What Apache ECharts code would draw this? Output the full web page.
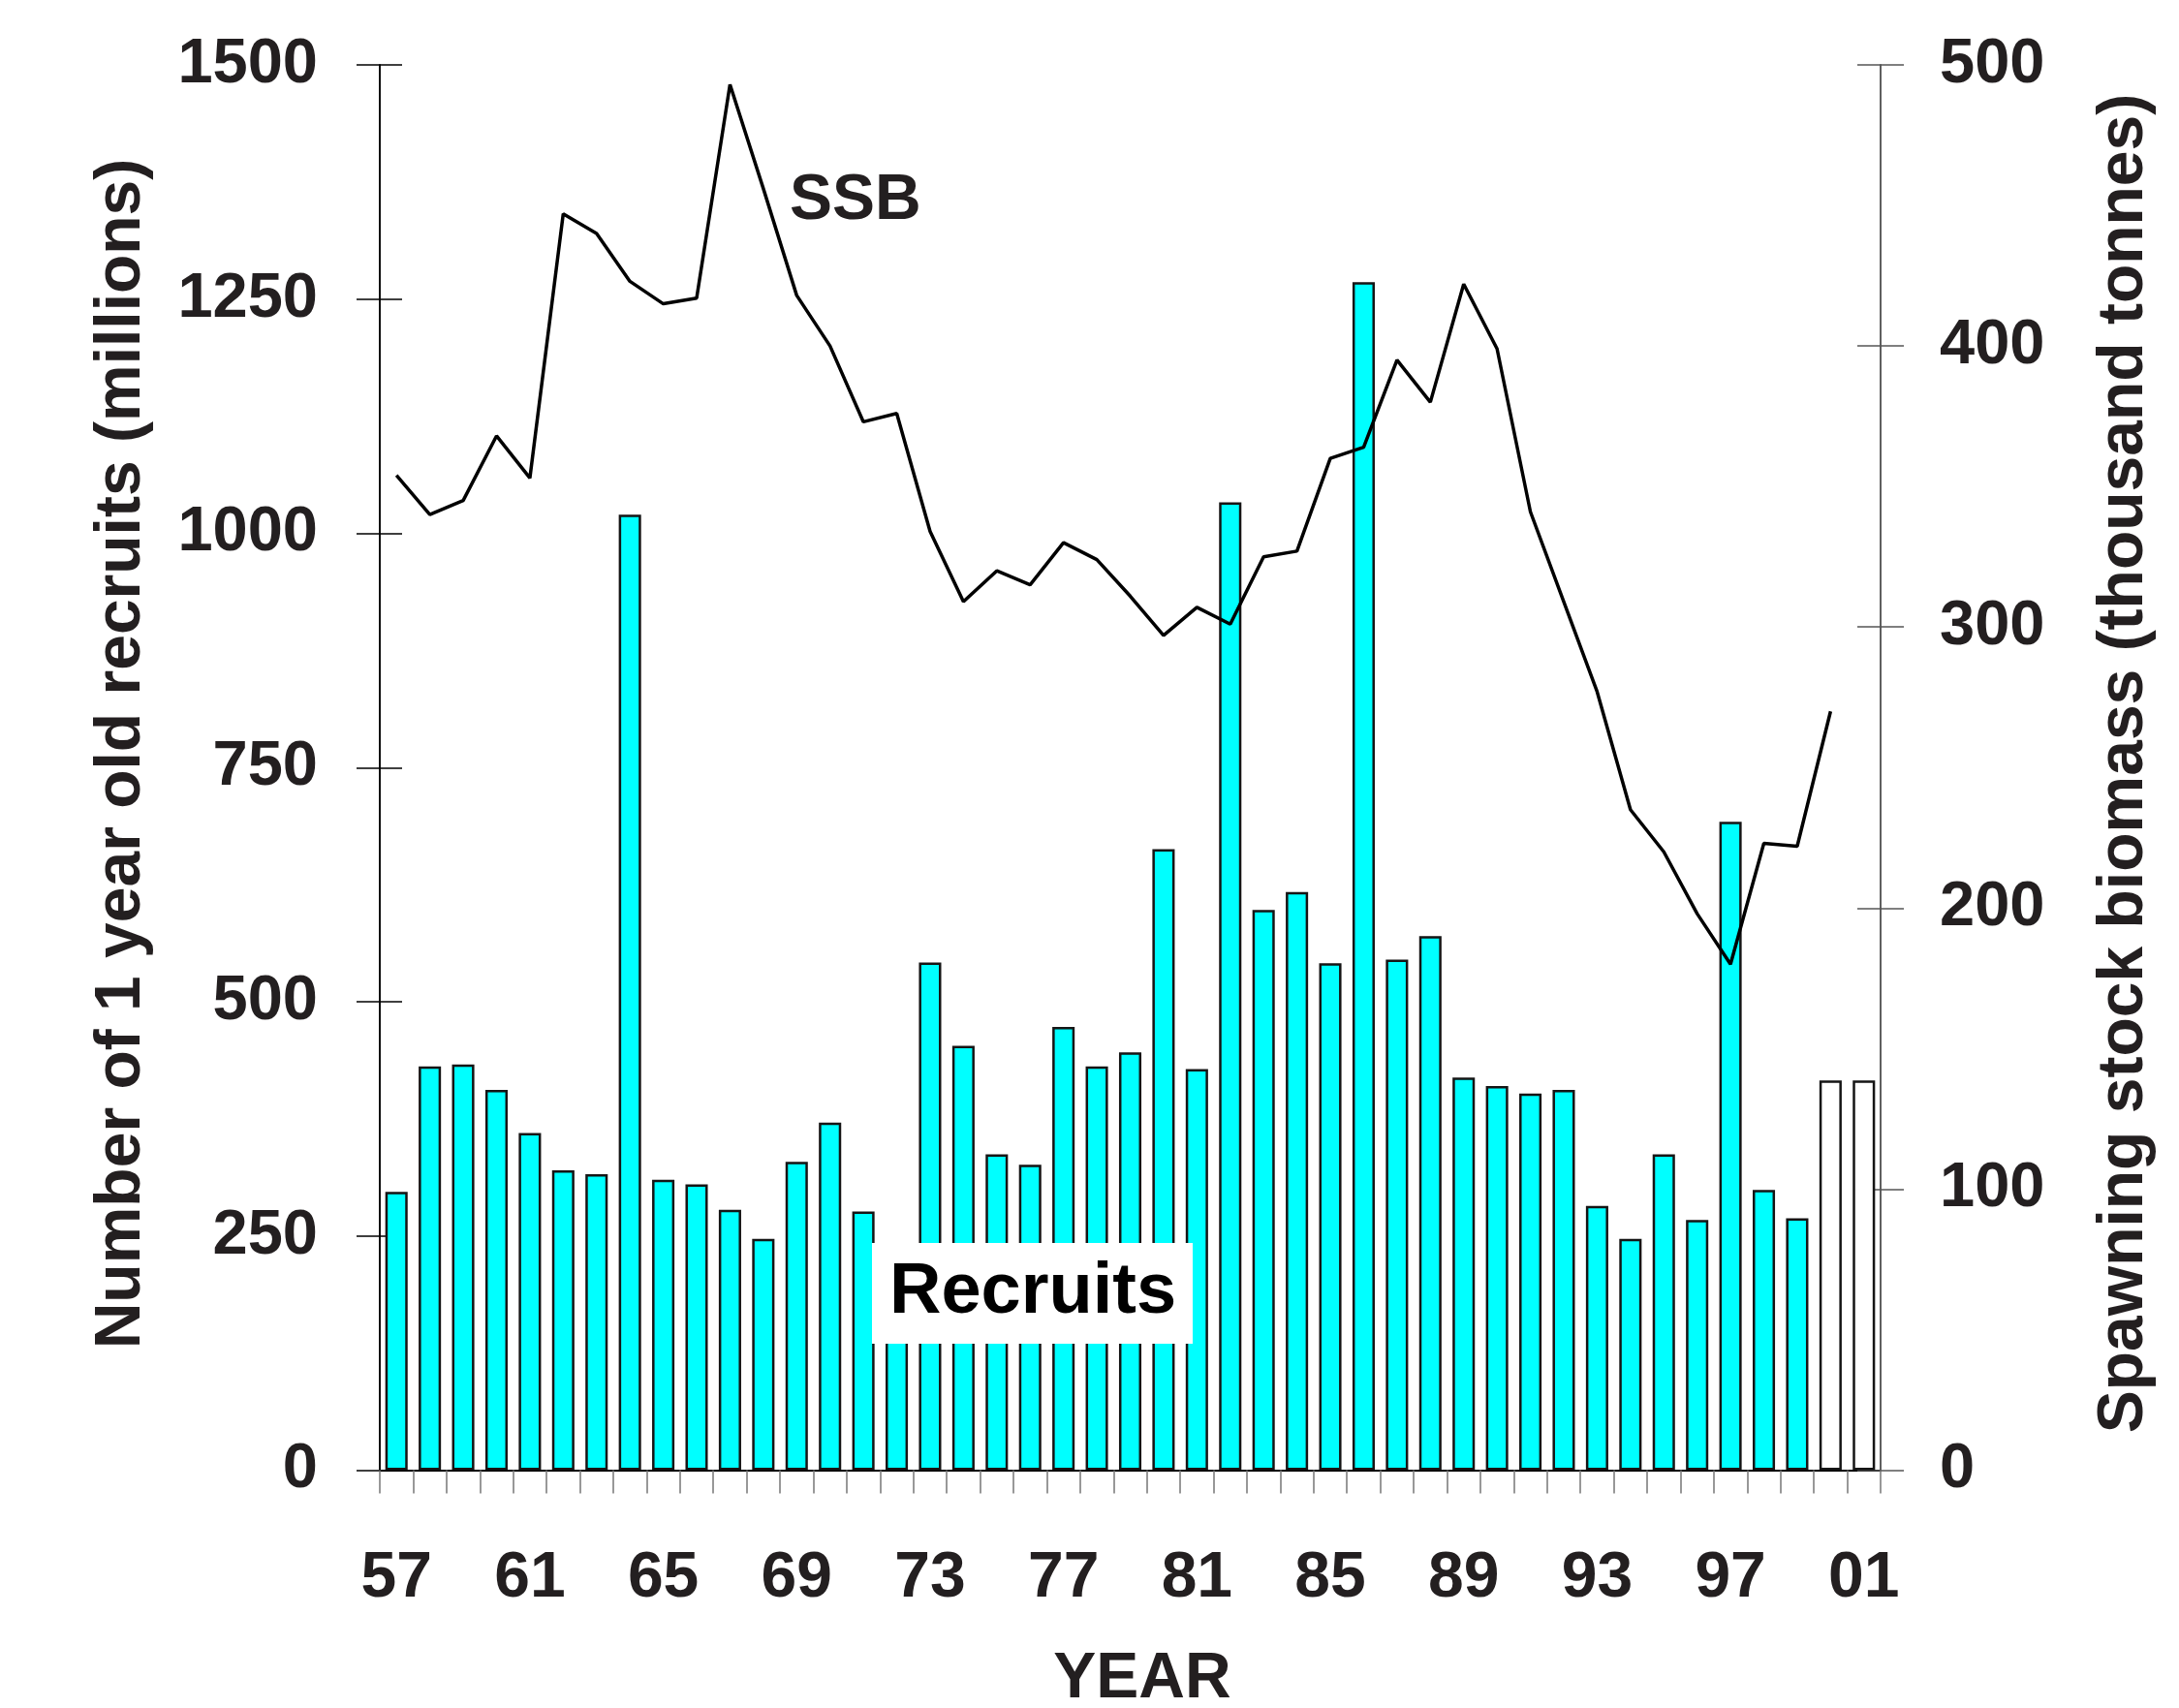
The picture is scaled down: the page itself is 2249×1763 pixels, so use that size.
<!DOCTYPE html>
<html>
<head>
<meta charset="utf-8">
<script src="https://cdn.jsdelivr.net/npm/echarts@6/dist/echarts.min.js"></script>
<style>
  html, body { margin: 0; padding: 0; background: #fff; }
  #chart { width: 2249px; height: 1763px; }
</style>
</head>
<body>
<div id="chart"></div>
<script>
// Recruits (bars, left axis) and SSB (line, right axis), 1957-2001

const years = ['57', '58', '59', '60', '61', '62', '63', '64', '65', '66',
    '67', '68', '69', '70', '71', '72', '73', '74', '75', '76',
    '77', '78', '79', '80', '81', '82', '83', '84', '85', '86',
    '87', '88', '89', '90', '91', '92', '93', '94', '95', '96',
    '97', '98', '99', '00', '01'];

// number of 1 year old recruits (millions)
const recruits = [297, 431, 433, 406, 360, 320, 316, 1020, 310, 305,
    278, 247, 329, 371, 276, 205, 542, 453, 337, 326,
    473, 431, 446, 663, 428, 1033, 598, 617, 541, 1268,
    545, 570, 419, 410, 402, 406, 282, 247, 337, 267,
    692, 299, 269, 416, 416];

// years drawn as open (assumed) bars
const assumedYears = ['00', '01'];

// spawning stock biomass (thousand tonnes)
const ssb = [354, 340, 345, 368, 353, 447, 440, 423, 415, 417,
    493, 456, 418, 400, 373, 376, 334, 309, 320, 315,
    330, 324, 311, 297, 307, 301, 325, 327, 360, 364,
    395, 380, 422, 399, 341, 309, 277, 235, 220, 198,
    180, 223, 222, 270, null];

const leftTicks = [0, 250, 500, 750, 1000, 1250, 1500];
const rightTicks = [0, 100, 200, 300, 400, 500];

const FONT = '"Liberation Sans", Arial, Helvetica, sans-serif';
const INK = '#231f20';

const chart = echarts.init(document.getElementById('chart'));

function yAxisBase(ticks, position, color) {
    return {
        type: 'value',
        position: position,
        min: ticks[0],
        max: ticks[ticks.length - 1],
        interval: ticks[1] - ticks[0],
        splitLine: { show: false },
        axisLine: { show: true, lineStyle: { color: color, width: 1.5 } }
    };
}

const plainNumber = v => String(v);

const leftOuter = Object.assign(yAxisBase(leftTicks, 'left', '#000'), {
    axisTick: { show: true, inside: false, length: 24, lineStyle: { color: '#000', width: 1.5 } },
    axisLabel: { margin: 64, formatter: plainNumber, fontFamily: FONT, fontWeight: 'bold', fontSize: 65, color: INK }
});
const rightOuter = Object.assign(yAxisBase(rightTicks, 'right', '#555'), {
    axisTick: { show: true, inside: false, length: 24, lineStyle: { color: '#555', width: 1.5 } },
    axisLabel: { margin: 61, formatter: plainNumber, fontFamily: FONT, fontWeight: 'bold', fontSize: 65, color: INK }
});
// ticks in the reference cross the axis line, so add a second, label-less axis with inner ticks
const leftInner = Object.assign(yAxisBase(leftTicks, 'left', '#000'), {
    axisTick: { show: true, inside: true, length: 23, lineStyle: { color: '#000', width: 1.5 } },
    axisLabel: { show: false }
});
const rightInner = Object.assign(yAxisBase(rightTicks, 'right', '#555'), {
    axisTick: { show: true, inside: true, length: 24, lineStyle: { color: '#555', width: 1.5 } },
    axisLabel: { show: false }
});

const barData = recruits.map((v, i) => {
    if (assumedYears.indexOf(years[i]) >= 0) {
        return { value: v, itemStyle: { color: '#ffffff' } };
    }
    return v;
});

const option = {
    animation: false,
    backgroundColor: '#ffffff',
    grid: { left: 392, right: 308, top: 67, bottom: 245.5 },
    xAxis: {
        type: 'category',
        data: years,
        boundaryGap: true,
        axisLine: { show: true, lineStyle: { color: '#000', width: 2 } },
        axisTick: { show: true, interval: 0, length: 24, lineStyle: { color: '#777', width: 1.5 } },
        axisLabel: {
            interval: 3,
            margin: 79,
            fontFamily: FONT,
            fontWeight: 'bold',
            fontSize: 66,
            color: INK
        }
    },
    yAxis: [leftOuter, rightOuter, leftInner, rightInner],
    series: [
        {
            name: 'Recruits',
            type: 'bar',
            yAxisIndex: 0,
            data: barData,
            barWidth: '67%',
            itemStyle: { color: '#00ffff', borderColor: '#151515', borderWidth: 2.5 },
            z: 2
        },
        {
            name: 'SSB',
            type: 'line',
            yAxisIndex: 1,
            data: ssb,
            showSymbol: false,
            symbol: 'none',
            connectNulls: false,
            lineStyle: { color: '#000', width: 3.5 },
            z: 3
        }
    ],
    graphic: [
        {
            type: 'text', z: 100, rotation: Math.PI / 2, x: 126, y: 778,
            style: {
                text: 'Number of 1 year old recruits (millions)',
                font: 'bold 66px ' + FONT, fill: INK,
                textAlign: 'center', textVerticalAlign: 'middle'
            }
        },
        {
            type: 'text', z: 100, rotation: Math.PI / 2, x: 2193, y: 788,
            style: {
                text: 'Spawning stock biomass (thousand tonnes)',
                font: 'bold 66px ' + FONT, fill: INK,
                textAlign: 'center', textVerticalAlign: 'middle'
            }
        },
        {
            type: 'text', z: 100, x: 1179, y: 1734,
            style: {
                text: 'YEAR', font: 'bold 66px ' + FONT, fill: INK,
                textAlign: 'center', textVerticalAlign: 'middle'
            }
        },
        {
            type: 'text', z: 100, x: 815, y: 208,
            style: {
                text: 'SSB', font: 'bold 66px ' + FONT, fill: INK,
                textAlign: 'left', textVerticalAlign: 'middle'
            }
        },
        {
            type: 'rect', z: 100,
            shape: { x: 900, y: 1283, width: 331, height: 104 },
            style: { fill: '#ffffff' }
        },
        {
            type: 'text', z: 101, x: 1066, y: 1335,
            style: {
                text: 'Recruits', font: 'bold 74px ' + FONT, fill: '#000',
                textAlign: 'center', textVerticalAlign: 'middle'
            }
        }
    ]
};

chart.setOption(option);
</script>
</body>
</html>
